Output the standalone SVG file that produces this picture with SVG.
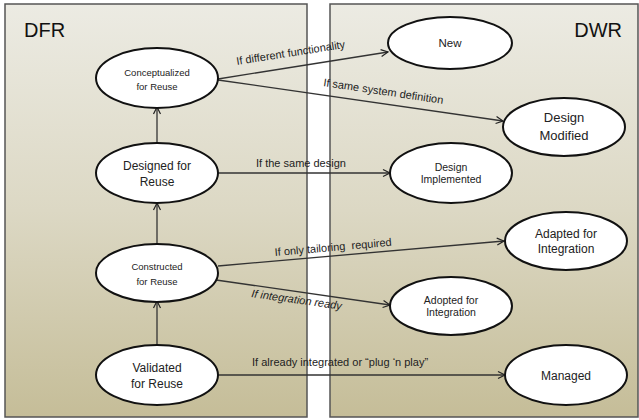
<svg xmlns="http://www.w3.org/2000/svg" width="639" height="420" viewBox="0 0 639 420">
<defs>
<linearGradient id="bg" x1="0" y1="0" x2="0" y2="1">
<stop offset="0" stop-color="#ecebe3"/>
<stop offset="0.5" stop-color="#dcd8c4"/>
<stop offset="1" stop-color="#c5bd98"/>
</linearGradient>
<marker id="ar" markerWidth="10" markerHeight="10" refX="8" refY="5" orient="auto" markerUnits="userSpaceOnUse">
<path d="M1,1.5 L8,5 L1,8.5" fill="none" stroke="#222" stroke-width="1.2"/>
</marker>
<style>
.panel{fill:url(#bg);stroke:#555;stroke-width:1.5}
.node{fill:#fff;stroke:#111;stroke-width:2}
.t{font-family:"Liberation Sans",Arial,sans-serif;fill:#222;text-anchor:middle}
.lbl{font-family:"Liberation Sans",Arial,sans-serif;fill:#222;font-size:11px}
.title{font-family:"Liberation Sans",Arial,sans-serif;fill:#111;font-size:20px}
.c{stroke:#333;stroke-width:1.3;fill:none;marker-end:url(#ar)}
</style>
</defs>
<rect class="panel" x="5" y="4" width="302" height="413"/>
<rect class="panel" x="330" y="4" width="308" height="413"/>
<text class="title" x="24" y="37">DFR</text>
<text class="title" x="622" y="37" text-anchor="end">DWR</text>
<g id="connectors">
<line class="c" x1="157" y1="345" x2="157" y2="301"/>
<line class="c" x1="157" y1="244" x2="157" y2="203"/>
<line class="c" x1="157" y1="143" x2="157" y2="107"/>
<line class="c" x1="218" y1="79" x2="388" y2="52"/>
<line class="c" x1="218" y1="80" x2="503" y2="121"/>
<line class="c" x1="218" y1="173" x2="390" y2="173"/>
<line class="c" x1="218" y1="266" x2="504" y2="241"/>
<line class="c" x1="216" y1="280" x2="390" y2="305"/>
<line class="c" x1="218" y1="375" x2="505" y2="375"/>
<text class="lbl" transform="translate(237,65) rotate(-9)">If different functionality</text>
<text class="lbl" transform="translate(323,86) rotate(8.5)">If same system definition</text>
<text class="lbl" x="256" y="167">If the same design</text>
<text class="lbl" transform="translate(275,256) rotate(-5)" xml:space="preserve">If only tailoring  required</text>
<text class="lbl" font-style="italic" transform="translate(251,297) rotate(8)">If integration ready</text>
<text class="lbl" x="252" y="366">If already integrated or “plug ‘n play”</text>
</g>
<g id="conceptualized">
<ellipse class="node" cx="157" cy="78" rx="61" ry="30"/>
<text class="t" font-size="9.5" x="157" y="76">Conceptualized</text>
<text class="t" font-size="9.5" x="157" y="90">for Reuse</text>
</g>
<g id="designed">
<ellipse class="node" cx="157" cy="173" rx="61" ry="30"/>
<text class="t" font-size="12" x="157" y="170">Designed for</text>
<text class="t" font-size="12" x="157" y="186">Reuse</text>
</g>
<g id="constructed">
<ellipse class="node" cx="157" cy="273" rx="61" ry="29"/>
<text class="t" font-size="9.5" x="157" y="270">Constructed</text>
<text class="t" font-size="9.5" x="157" y="285">for Reuse</text>
</g>
<g id="validated">
<ellipse class="node" cx="157" cy="375" rx="61" ry="30"/>
<text class="t" font-size="12" x="157" y="372">Validated</text>
<text class="t" font-size="12" x="157" y="388">for Reuse</text>
</g>
<g id="new">
<ellipse class="node" cx="450" cy="43" rx="62" ry="26"/>
<text class="t" font-size="11.5" x="450" y="47">New</text>
</g>
<g id="design-modified">
<ellipse class="node" cx="564" cy="127" rx="61" ry="29"/>
<text class="t" font-size="13" x="564" y="122">Design</text>
<text class="t" font-size="13" x="564" y="140">Modified</text>
</g>
<g id="design-implemented">
<ellipse class="node" cx="451" cy="173" rx="61" ry="30"/>
<text class="t" font-size="10.5" x="451" y="171">Design</text>
<text class="t" font-size="10.5" x="451" y="183">Implemented</text>
</g>
<g id="adapted">
<ellipse class="node" cx="566" cy="241" rx="61" ry="29"/>
<text class="t" font-size="12" x="566" y="238">Adapted for</text>
<text class="t" font-size="12" x="566" y="253">Integration</text>
</g>
<g id="adopted">
<ellipse class="node" cx="451" cy="306" rx="61" ry="29"/>
<text class="t" font-size="10.5" x="451" y="304">Adopted for</text>
<text class="t" font-size="10.5" x="451" y="316">Integration</text>
</g>
<g id="managed">
<ellipse class="node" cx="566" cy="375" rx="61" ry="30"/>
<text class="t" font-size="12" x="566" y="380">Managed</text>
</g>
</svg>
